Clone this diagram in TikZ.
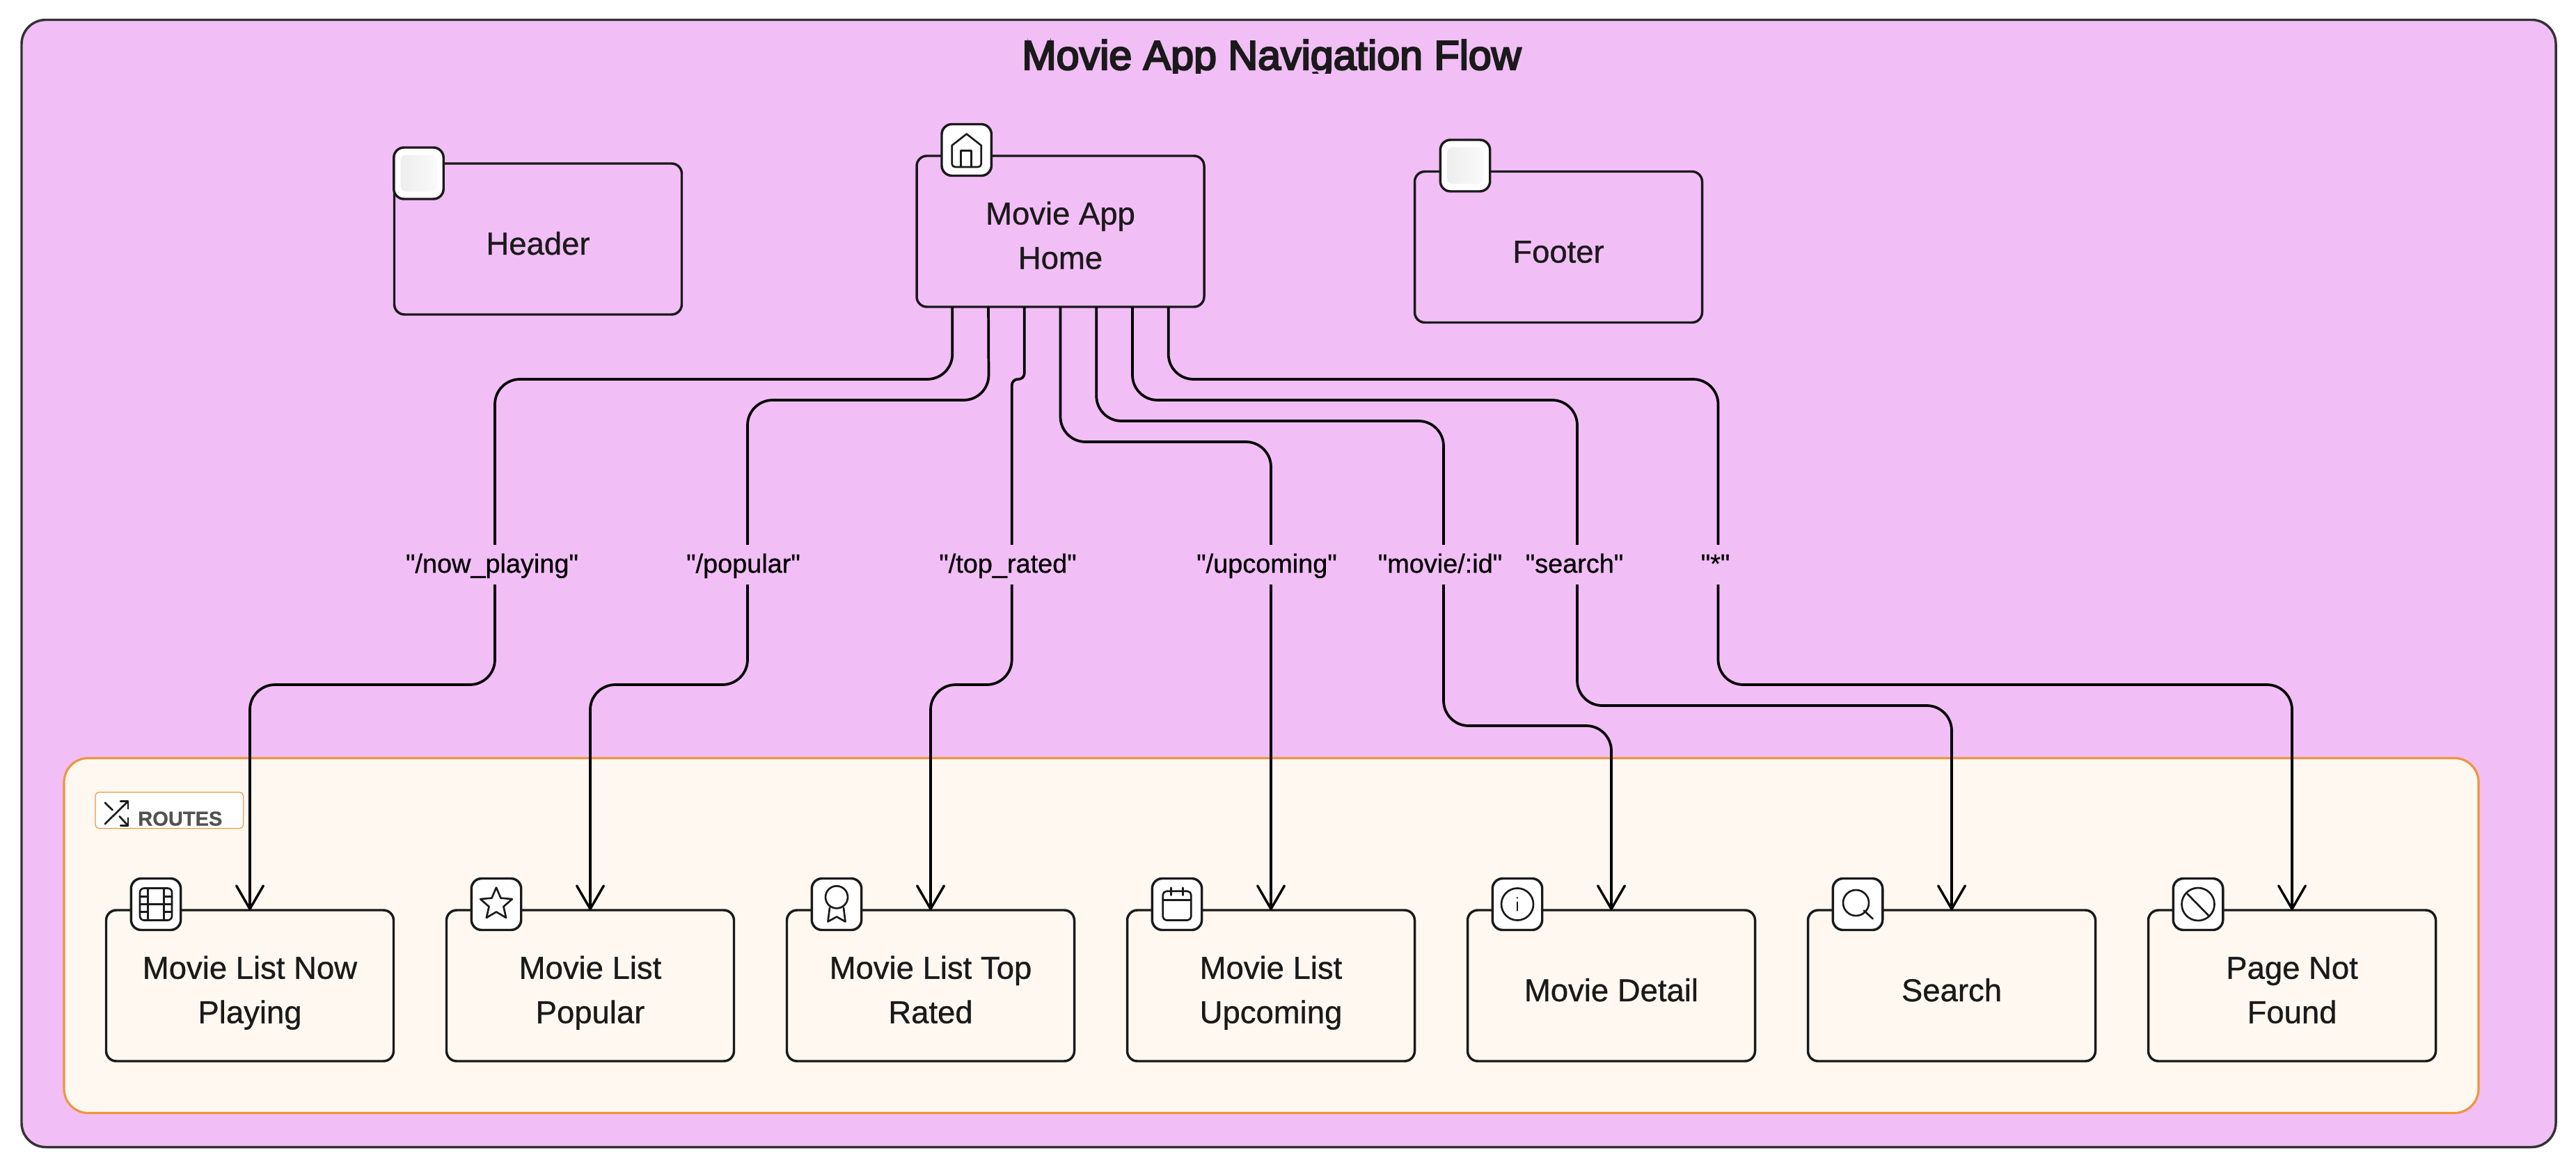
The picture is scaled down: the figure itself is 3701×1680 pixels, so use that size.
\documentclass[tikz,border=0pt]{standalone}
\usepackage{fontspec}
\setmainfont[Ligatures=TeXOff,FakeBold=0.7]{Liberation Sans}
\newfontfamily\titlefont[FakeBold=4]{Liberation Sans}
\usetikzlibrary{arrows.meta}
\definecolor{flowpink}{HTML}{F2BEF6}
\definecolor{routecream}{HTML}{FFF8F1}
\definecolor{routeorange}{HTML}{EE963C}
\definecolor{inkdark}{HTML}{1A1A1A}
\tikzset{
  screen/.style={draw=inkdark,line width=2.6pt,rounded corners=11pt,minimum width=309.75pt,minimum height=162.75pt,
    inner sep=0pt,outer sep=0pt,align=center,text=inkdark,text height=33.6pt,text depth=0pt,
    font=\fontsize{34.1}{47.8}\selectfont},
  screentwo/.style={screen,text height=80.8pt,text depth=0pt},
  iconbadge/.style={draw=inkdark,fill=white,line width=2.6pt,rounded corners=11pt,minimum width=53.6pt,minimum height=55.5pt,inner sep=0pt,outer sep=0pt},
  blankicon/.style={rounded corners=6pt,minimum width=39pt,minimum height=39.5pt,inner sep=0pt,left color=black!7,right color=black!2},
  iconline/.style={draw=inkdark,line width=2pt,line join=round,line cap=round},
  routeline/.style={draw=black,line width=2.8pt,rounded corners=27pt,-{Straight Barb[length=25pt,width=29pt,line width=2.6pt,round]}},
  edgelabel/.style={fill=flowpink,text=black,inner sep=0pt,outer sep=0pt,minimum height=42.75pt,text height=20pt,text depth=2.75pt,
    font=\fontsize{28.4}{30}\selectfont},
}
\begin{document}
\begin{tikzpicture}[x=0.75pt,y=0.75pt,yscale=-1,xscale=1]
\useasboundingbox (0,0) rectangle (3701,1680);

%Shape: outer frame
\node (navflow) [draw=black!80,fill=flowpink,line width=2.6pt,rounded corners=26pt,minimum width=2730.75pt,minimum height=1215pt,inner sep=0pt] at (1851.5,838.5) {};
%Shape: routes group
\node (routesgroup) [draw=routeorange,fill=routecream,line width=2.4pt,rounded corners=26pt,minimum width=2601.75pt,minimum height=382.5pt,inner sep=0pt] at (1826.5,1344.5) {};
\node (routestag) [draw=routeorange,fill=white,line width=0.9pt,rounded corners=4pt,minimum width=159.5pt,minimum height=39pt,inner sep=0pt] at (243.3,1164.5) {};

% Title Node
\begin{scope}
\clip (1400,40) rectangle (2300,106);
\node (title) [anchor=base,inner sep=0pt,text=inkdark,font=\titlefont\fontsize{44.4}{50}\selectfont] at (1827,100) {Movie App Navigation Flow};
\end{scope}

% Text Node
\node (header) [screen] at (773,343.5) {Header};
\node (home) [screentwo] at (1523.5,332.5) {Movie App\\Home};
\node (footer) [screen] at (2239,355) {Footer};
\node (nowplaying) [screentwo] at (359,1416.5) {Movie List Now\\Playing};
\node (popular) [screentwo] at (848,1416.5) {Movie List\\Popular};
\node (toprated) [screentwo] at (1337,1416.5) {Movie List Top\\Rated};
\node (upcoming) [screentwo] at (1826,1416.5) {Movie List\\Upcoming};
\node (moviedetail) [screen] at (2315,1416.5) {Movie Detail};
\node (search) [screen] at (2804,1416.5) {Search};
\node (notfound) [screentwo] at (3293,1416.5) {Page Not\\Found};
\node (routestext) [anchor=base west,inner sep=0pt,text=black!68,font=\bfseries\fontsize{21.8}{24}\selectfont] at (198,1186.5) {ROUTES};

% Connection
\draw [routeline] ([xshift=-116.4pt]home.south) -- (1368.3,545) -- (711,545) -- (711,984) -- (359,984) -- (nowplaying.north);
\draw [routeline] ([xshift=-77.6pt]home.south) -- (1420.6,575) -- (1074,575) -- (1074,984) -- (848,984) -- (popular.north);
\draw [routeline] ([xshift=-38.8pt]home.south) [rounded corners=6.5pt] -- (1471.8,545) -- (1453.7,545) -- (1453.7,700) [rounded corners=27pt] -- (1453.7,984) -- (1337,984) -- (toprated.north);
\draw [routeline] (home.south) -- (1523.5,635) -- (1826,635) -- (upcoming.north);
\draw [routeline] ([xshift=38.8pt]home.south) -- (1575.2,605) -- (2074,605) -- (2074,1043) -- (2315,1043) -- (moviedetail.north);
\draw [routeline] ([xshift=77.6pt]home.south) -- (1627,575) -- (2266,575) -- (2266,1014) -- (2804,1014) -- (search.north);
\draw [routeline] ([xshift=116.4pt]home.south) -- (1678.7,545) -- (2468.5,545) -- (2468.5,984) -- (3293,984) -- (notfound.north);

% Text Node
\node (nowplayinglabel) [edgelabel] at (707,811.5) {"/now\_playing"};
\node (popularlabel) [edgelabel] at (1068,811.5) {"/popular"};
\node (topratedlabel) [edgelabel] at (1448,811.5) {"/top\_rated"};
\node (upcominglabel) [edgelabel] at (1820,811.5) {"/upcoming"};
\node (moviedetaillabel) [edgelabel] at (2069,811.5) {"movie/:id"};
\node (searchlabel) [edgelabel] at (2262,811.5) {"search"};
\node (notfoundlabel) [edgelabel] at (2464.5,811.5) {"*"};

%Shape: badges
\node (headerbadge) [iconbadge] at (601.5,249) {};
\node (headerblank) [blankicon] at (601.5,249) {};
\node (homebadge) [iconbadge] at (1388.7,215.5) {};
\node (footerbadge) [iconbadge] at (2105,238) {};
\node (footerblank) [blankicon] at (2105,238) {};
\node (nowplayingbadge) [iconbadge] at (224,1299.5) {};
\node (popularbadge) [iconbadge] at (713,1299.5) {};
\node (topratedbadge) [iconbadge] at (1202,1299.5) {};
\node (upcomingbadge) [iconbadge] at (1691,1299.5) {};
\node (moviedetailbadge) [iconbadge] at (2180,1299.5) {};
\node (searchbadge) [iconbadge] at (2669,1299.5) {};
\node (notfoundbadge) [iconbadge] at (3158,1299.5) {};

%Shape: shuffle icon
\begin{scope}[shift={(0,1.5)}]
\draw [iconline] (150.7,1182.7) -- (184,1150);
\draw [iconline] (173,1150) -- (184,1150) -- (184,1160.7);
\draw [iconline] (150.7,1152) -- (161.7,1162.7);
\draw [iconline] (171.7,1171.7) -- (184,1185);
\draw [iconline] (173.3,1185) -- (184,1185) -- (184,1174);
\end{scope}

%Shape: home icon
\begin{scope}[shift={(1388.7,215.5)}]
\draw [iconline] (0,-23) -- (21,-6.5) -- (21,20) .. controls (21,23) and (19,24.5) .. (16,24.5) -- (-16,24.5) .. controls (-19,24.5) and (-21,23) .. (-21,20) -- (-21,-6.5) -- cycle;
\draw [iconline] (-8,24.5) -- (-8,1) -- (7,1) -- (7,24.5);
\end{scope}
%Shape: film icon
\begin{scope}[shift={(224,1299.5)}]
\draw [iconline,rounded corners=4.5pt] (-23,-23) rectangle (23,23);
\draw [iconline] (-11.3,-23) -- (-11.3,23);
\draw [iconline] (11.3,-23) -- (11.3,23);
\draw [iconline] (-23,0) -- (23,0);
\draw [iconline] (-23,-11.3) -- (-11.3,-11.3);
\draw [iconline] (-23,11.3) -- (-11.3,11.3);
\draw [iconline] (11.3,-11.3) -- (23,-11.3);
\draw [iconline] (11.3,11.3) -- (23,11.3);
\end{scope}
%Shape: star icon
\begin{scope}[shift={(713,1299.5)}]
\draw [iconline] (-90:24) -- (-54:11) -- (-18:24) -- (18:11) -- (54:24) -- (90:11) -- (126:24) -- (162:11) -- (198:24) -- (234:11) -- cycle;
\end{scope}
%Shape: ribbon icon
\begin{scope}[shift={(1202,1299.5)}]
\draw [iconline] (0,-10.2) circle (16);
\draw [iconline] (-10,5) -- (-12.5,25) -- (0,18) -- (12.5,25) -- (10,5);
\end{scope}
%Shape: calendar icon
\begin{scope}[shift={(1691,1299.5)}]
\draw [iconline,rounded corners=4pt] (-20.3,-18.7) rectangle (20.3,23);
\draw [iconline] (-20.3,-6.3) -- (20.3,-6.3);
\draw [iconline] (-8.7,-23.7) -- (-8.7,-13);
\draw [iconline] (8.7,-23.7) -- (8.7,-13);
\end{scope}
%Shape: info icon
\begin{scope}[shift={(2180,1299.5)}]
\draw [iconline] (0,0) circle (23);
\draw [iconline] (0,-3) -- (0,9);
\draw [iconline] (0,-9.5) -- (0,-9);
\end{scope}
%Shape: search icon
\begin{scope}[shift={(2669,1299.5)}]
\draw [iconline] (-2.5,-2) circle (18.5);
\draw [iconline] (9,9) -- (21.7,21);
\end{scope}
%Shape: blocked icon
\begin{scope}[shift={(3158,1299.5)}]
\draw [iconline] (0,0) circle (23.5);
\draw [iconline] (-15.5,-15) -- (15.8,17);
\end{scope}
\end{tikzpicture}
\end{document}
